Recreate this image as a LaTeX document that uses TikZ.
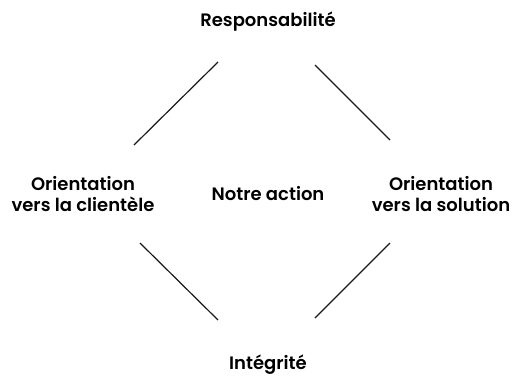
\documentclass[tikz,border=0pt]{standalone}
\usepackage{fontspec}
\setmainfont{Poppins}[UprightFont=* SemiBold]
\usepackage{tikz}

\tikzset{
	pillar/.style={font=\fontsize{18}{20.5}\selectfont, align=center, inner sep=0pt},
	link/.style={line width=1.2pt, color=black!90}
}

\begin{document}
\begin{tikzpicture}[x=1pt, y=-1pt]
			%%%%% START %%%%%
			
			\useasboundingbox (0, 0) rectangle (516, 384);
			
			\node[pillar] (resp) at (268, 22) {Responsabilité};
			\node[pillar] (action) at (268, 194) {Notre action};
			\node[pillar] (client) at (83, 194) {Orientation\\vers la clientèle};
			\node[pillar] (solution) at (441, 194) {Orientation\\vers la solution};
			\node[pillar] (integ) at (268, 365) {Intégrité};
			
			\coordinate (resp-l) at (218, 62);
			\coordinate (resp-r) at (315, 65);
			\coordinate (client-t) at (134, 145);
			\coordinate (client-b) at (140, 243);
			\coordinate (solution-t) at (390, 140);
			\coordinate (solution-b) at (390, 243);
			\coordinate (integ-l) at (218, 320);
			\coordinate (integ-r) at (315, 318);
			
			\draw[link] (client-t) -- (resp-l);
			\draw[link] (resp-r) -- (solution-t);
			\draw[link] (client-b) -- (integ-l);
			\draw[link] (solution-b) -- (integ-r);
			
			%%%%% END %%%%%
		\end{tikzpicture}
\end{document}
